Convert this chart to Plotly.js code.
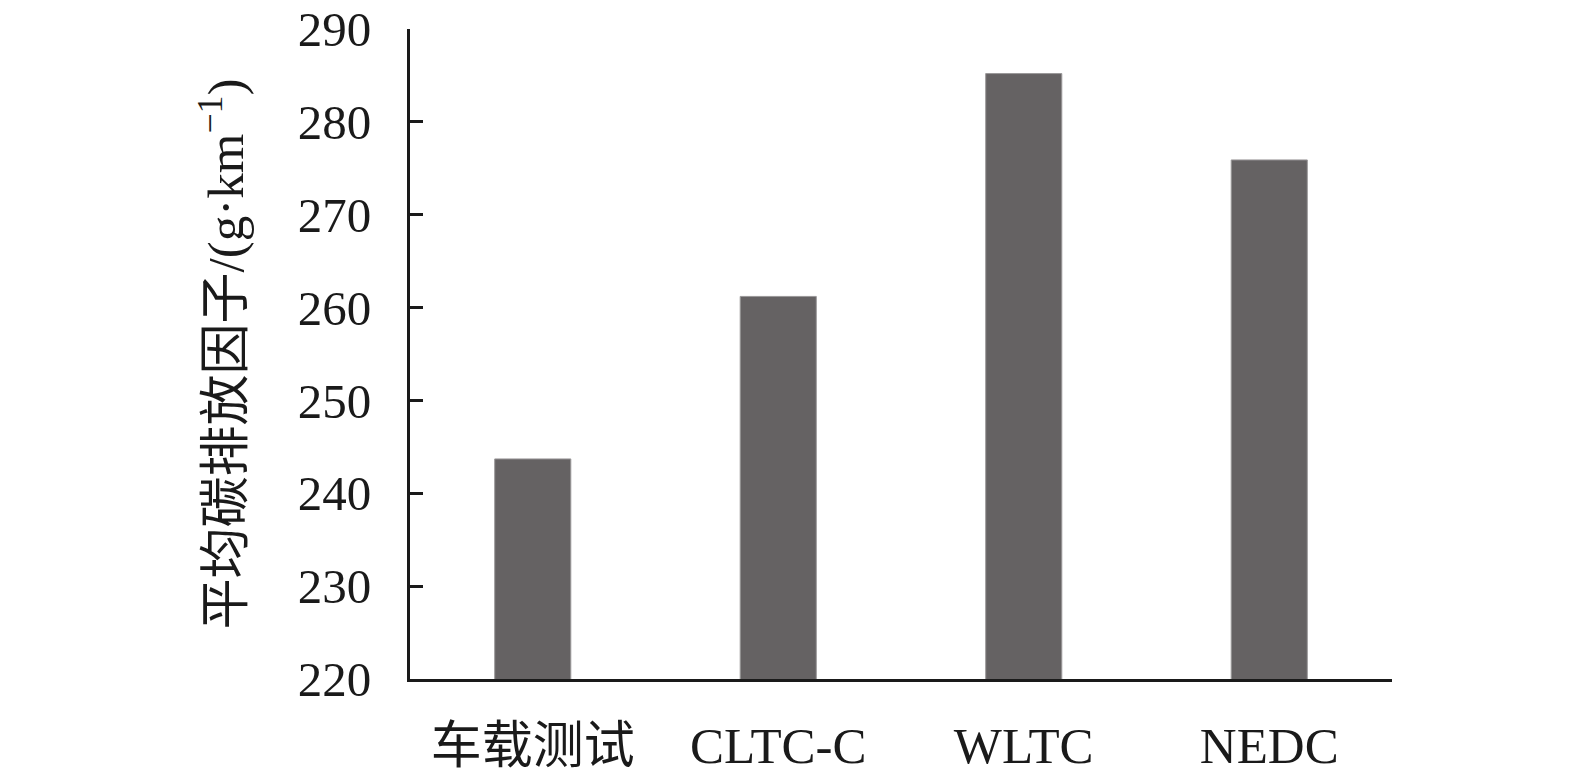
<!DOCTYPE html>
<html>
<head>
<meta charset="utf-8">
<script src="https://cdn.plot.ly/plotly-3.0.1.min.js"></script>
<style>
  html, body { margin: 0; padding: 0; background: #fff; }
  #chart { width: 1575px; height: 779px; }
</style>
</head>
<body>
<div id="chart"></div>
<script>
// categories and average carbon emission factors (g/km)
const categories = ['车载测试', 'CLTC-C', 'WLTC', 'NEDC'];
const emissions = [243.7, 261.2, 285.2, 275.9];
const yTicks = [220, 230, 240, 250, 260, 270, 280, 290];

const serif = '"Liberation Serif", "Times New Roman", "Noto Sans CJK SC", serif';

const trace = {
  type: 'bar',
  x: categories,
  y: emissions,
  marker: { color: '#656263', line: { color: '#9a9899', width: 1 } },
  hoverinfo: 'x+y'
};

const layout = {
  width: 1575,
  height: 779,
  margin: { l: 410, r: 183, t: 29, b: 100 },
  paper_bgcolor: '#fff',
  plot_bgcolor: '#fff',
  showlegend: false,
  bargap: 0.69,
  font: { family: serif, color: '#1a1a1a' },
  xaxis: {
    type: 'category',
    showline: true,
    linecolor: '#1a1a1a',
    linewidth: 3,
    ticks: '',
    showgrid: false,
    zeroline: false,
    ticklabelstandoff: 20,
    tickfont: { family: serif, size: 51, color: '#1a1a1a' }
  },
  yaxis: {
    range: [220, 290],
    tickvals: yTicks,
    ticktext: yTicks.map(String),
    showline: true,
    linecolor: '#1a1a1a',
    linewidth: 3,
    ticks: 'inside',
    ticklen: 13,
    tickwidth: 3,
    tickcolor: '#1a1a1a',
    showgrid: false,
    zeroline: false,
    ticklabelstandoff: 26,
    tickfont: { family: serif, size: 49, color: '#1a1a1a' },
    title: {
      text: '平均碳排放因子/(g·km<sup>−1</sup>)',
      font: { family: serif, size: 51, color: '#1a1a1a' },
      standoff: 38
    }
  }
};

Plotly.newPlot('chart', [trace], layout, { displayModeBar: false, staticPlot: true });
</script>
</body>
</html>
